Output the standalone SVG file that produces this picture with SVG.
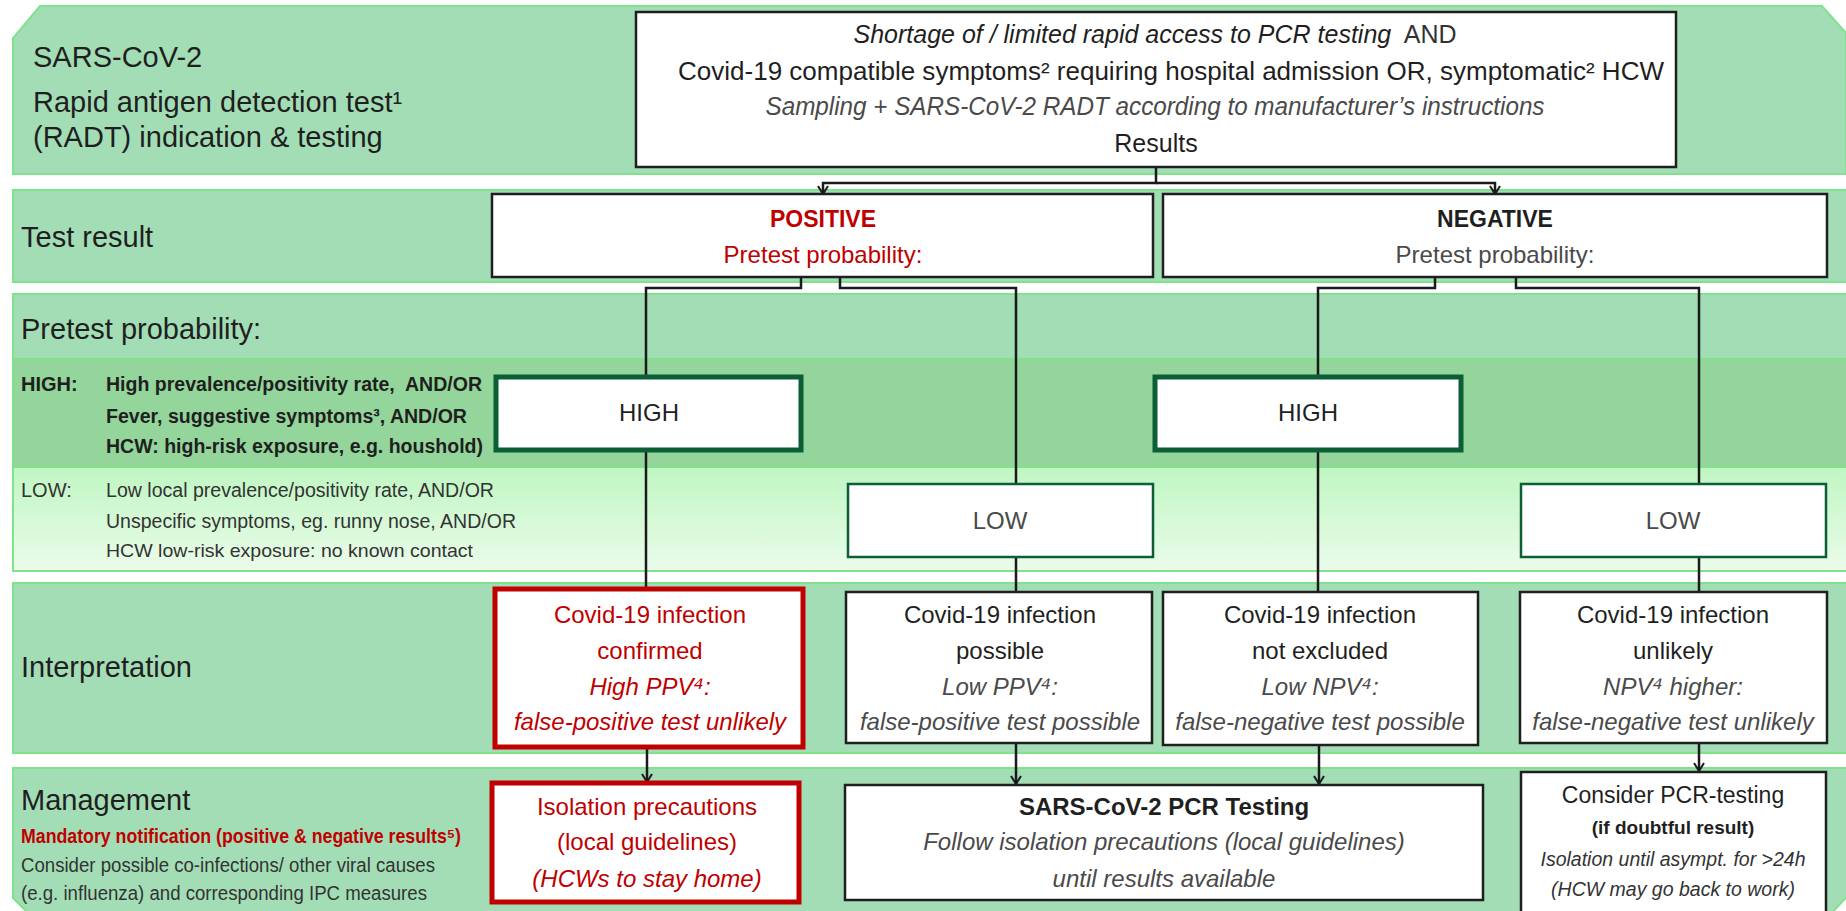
<svg xmlns="http://www.w3.org/2000/svg" width="1846" height="911" viewBox="0 0 1846 911">
<defs>
<style>
text{font-family:"Liberation Sans",Arial,sans-serif;fill:#1f1f1f}
.hdr{font-size:29px}
.band{fill:#a3ddb6;stroke:#7fe38c;stroke-width:2}
.box{fill:#fff;stroke:#1f1f1f;stroke-width:2.5}
.gbox{fill:#fff;stroke:#0b5e36;stroke-width:5}
.lbox{fill:#fff;stroke:#0b5e36;stroke-width:2.5}
.rbox{fill:#fff;stroke:#c00000;stroke-width:5}
.conn{fill:none;stroke:#1a1a1a;stroke-width:2.5}
.red{fill:#c00000}
.gray{fill:#4a4a4a}
.it{font-style:italic}
.m{text-anchor:middle}
.b24{font-size:24px}
.nar{font-size:20px}
</style>
<linearGradient id="lowg" x1="0" y1="0" x2="0" y2="1">
<stop offset="0" stop-color="#bff6c2"/>
<stop offset="1" stop-color="#ebfcea"/>
</linearGradient>
<marker id="arr" viewBox="0 0 10 12" refX="9" refY="6" markerWidth="10" markerHeight="12" markerUnits="userSpaceOnUse" orient="auto">
<path d="M1,1 L9,6 L1,11" fill="none" stroke="#1a1a1a" stroke-width="2"/>
</marker>
</defs>

<g id="bands">
<polygon class="band" points="40,6 1822,6 1846,33 1846,174 13,174 13,38"/>
<rect class="band" x="13" y="190" width="1840" height="92"/>
<rect class="band" x="13" y="294" width="1840" height="65"/>
<rect x="13" y="359" width="1840" height="108" fill="#93d59a" stroke="#7fe38c" stroke-width="2"/>
<rect x="13" y="467" width="1840" height="104" fill="url(#lowg)" stroke="#7fe38c" stroke-width="2"/>
<rect class="band" x="13" y="583" width="1840" height="170"/>
<polygon class="band" points="13,768 1853,768 1853,890 1830,915 30,915 13,898"/>
</g>

<g id="row-labels">
<text class="hdr" x="33" y="67">SARS-CoV-2</text>
<text class="hdr" x="33" y="112">Rapid antigen detection test¹</text>
<text class="hdr" x="33" y="147">(RADT) indication &amp; testing</text>
<text class="hdr" x="21" y="247">Test result</text>
<text class="hdr" x="21" y="339">Pretest probability:</text>
<text class="nar" x="21" y="391" font-weight="bold">HIGH:</text>
<text class="nar" x="106" y="391" font-weight="bold" textLength="376" lengthAdjust="spacingAndGlyphs">High prevalence/positivity rate,&#160; AND/OR</text>
<text class="nar" x="106" y="423" font-weight="bold" textLength="361" lengthAdjust="spacingAndGlyphs">Fever, suggestive symptoms³, AND/OR</text>
<text class="nar" x="106" y="453" font-weight="bold" textLength="377" lengthAdjust="spacingAndGlyphs">HCW: high-risk exposure, e.g. houshold)</text>
<text class="nar" x="21" y="497" style="fill:#333">LOW:</text>
<text class="nar" x="106" y="497" style="fill:#333" textLength="388" lengthAdjust="spacingAndGlyphs">Low local prevalence/positivity rate, AND/OR</text>
<text class="nar" x="106" y="528" style="fill:#333" textLength="410" lengthAdjust="spacingAndGlyphs">Unspecific symptoms, eg. runny nose, AND/OR</text>
<text x="106" y="557" font-size="19" style="fill:#333" textLength="367" lengthAdjust="spacingAndGlyphs">HCW low-risk exposure: no known contact</text>
<text class="hdr" x="21" y="677">Interpretation</text>
<text class="hdr" x="21" y="810">Management</text>
<text class="red" x="21" y="843" font-size="21" font-weight="bold" textLength="440" lengthAdjust="spacingAndGlyphs">Mandatory notification (positive &amp; negative results⁵)</text>
<text class="nar" x="21" y="872" style="fill:#333" textLength="414" lengthAdjust="spacingAndGlyphs">Consider possible co-infections/ other viral causes</text>
<text class="nar" x="21" y="900" style="fill:#333" textLength="406" lengthAdjust="spacingAndGlyphs">(e.g. influenza) and corresponding IPC measures</text>
</g>

<g id="connectors">
<path class="conn" d="M1156,167 V183 H823 V194" marker-end="url(#arr)"/>
<path class="conn" d="M1156,183 H1495 V194" marker-end="url(#arr)"/>
<path class="conn" d="M801,277 V288 H646 V377"/>
<path class="conn" d="M646,450 V589"/>
<path class="conn" d="M840,277 V288 H1016 V484"/>
<path class="conn" d="M1016,557 V592"/>
<path class="conn" d="M1435,277 V288 H1318 V377"/>
<path class="conn" d="M1318,450 V592"/>
<path class="conn" d="M1516,277 V288 H1699 V484"/>
<path class="conn" d="M1699,557 V592"/>
<path class="conn" d="M647,747 V782" marker-end="url(#arr)"/>
<path class="conn" d="M1016,743 V784" marker-end="url(#arr)"/>
<path class="conn" d="M1319,745 V784" marker-end="url(#arr)"/>
<path class="conn" d="M1699,743 V771" marker-end="url(#arr)"/>
</g>

<g id="start">
<rect class="box" x="636" y="12" width="1040" height="155"/>
<text class="m" x="1155" y="43" font-size="25"><tspan class="it">Shortage of / limited rapid access to PCR testing</tspan><tspan style="fill:#333">&#160; AND</tspan></text>
<text class="m" x="1171" y="80" font-size="25" textLength="986" lengthAdjust="spacingAndGlyphs">Covid-19 compatible symptoms² requiring hospital admission OR, symptomatic² HCW</text>
<text class="m it gray" x="1155" y="115" font-size="25" textLength="779" lengthAdjust="spacingAndGlyphs">Sampling + SARS-CoV-2 RADT according to manufacturer’s instructions</text>
<text class="m" x="1156" y="152" font-size="25">Results</text>
</g>

<g id="positive">
<rect class="box" x="492" y="194" width="661" height="83"/>
<text class="m red" x="823" y="227" font-size="23" font-weight="bold">POSITIVE</text>
<text class="m red" x="823" y="263" font-size="24">Pretest probability:</text>
</g>

<g id="negative">
<rect class="box" x="1163" y="194" width="664" height="83"/>
<text class="m" x="1495" y="227" font-size="23" font-weight="bold">NEGATIVE</text>
<text class="m gray" x="1495" y="263" font-size="24">Pretest probability:</text>
</g>

<g id="pos-high">
<rect class="gbox" x="496" y="377" width="305" height="73"/>
<text class="m" x="649" y="421" font-size="24">HIGH</text>
</g>
<g id="neg-high">
<rect class="gbox" x="1155" y="377" width="306" height="73"/>
<text class="m" x="1308" y="421" font-size="24">HIGH</text>
</g>
<g id="pos-low">
<rect class="lbox" x="848" y="484" width="305" height="73"/>
<text class="m gray" x="1000" y="529" font-size="24">LOW</text>
</g>
<g id="neg-low">
<rect class="lbox" x="1521" y="484" width="305" height="73"/>
<text class="m gray" x="1673" y="529" font-size="24">LOW</text>
</g>

<g id="confirmed">
<rect class="rbox" x="495" y="589" width="308" height="158"/>
<text class="m red b24" x="650" y="623">Covid-19 infection</text>
<text class="m red b24" x="650" y="659">confirmed</text>
<text class="m red b24 it" x="650" y="695">High PPV⁴:</text>
<text class="m red b24 it" x="650" y="730">false-positive test unlikely</text>
</g>
<g id="possible">
<rect class="box" x="846" y="592" width="306" height="151"/>
<text class="m b24" x="1000" y="623">Covid-19 infection</text>
<text class="m b24" x="1000" y="659">possible</text>
<text class="m b24 it gray" x="1000" y="695">Low PPV⁴:</text>
<text class="m b24 it gray" x="1000" y="730">false-positive test possible</text>
</g>
<g id="not-excluded">
<rect class="box" x="1163" y="592" width="315" height="153"/>
<text class="m b24" x="1320" y="623">Covid-19 infection</text>
<text class="m b24" x="1320" y="659">not excluded</text>
<text class="m b24 it gray" x="1320" y="695">Low NPV⁴:</text>
<text class="m b24 it gray" x="1320" y="730">false-negative test possible</text>
</g>
<g id="unlikely">
<rect class="box" x="1520" y="592" width="307" height="151"/>
<text class="m b24" x="1673" y="623">Covid-19 infection</text>
<text class="m b24" x="1673" y="659">unlikely</text>
<text class="m b24 it gray" x="1673" y="695">NPV⁴ higher:</text>
<text class="m b24 it gray" x="1673" y="730">false-negative test unlikely</text>
</g>

<g id="isolation">
<rect class="rbox" x="492" y="783" width="307" height="119"/>
<text class="m red b24" x="647" y="815">Isolation precautions</text>
<text class="m red b24" x="647" y="850">(local guidelines)</text>
<text class="m red b24 it" x="647" y="887">(HCWs to stay home)</text>
</g>
<g id="pcr">
<rect class="box" x="845" y="785" width="638" height="115"/>
<text class="m b24" x="1164" y="815" font-weight="bold">SARS-CoV-2 PCR Testing</text>
<text class="m b24 it gray" x="1164" y="850">Follow isolation precautions (local guidelines)</text>
<text class="m b24 it gray" x="1164" y="887">until results available</text>
</g>
<g id="consider">
<rect class="box" x="1521" y="772" width="305" height="150"/>
<text class="m" x="1673" y="803" font-size="23">Consider PCR-testing</text>
<text class="m" x="1673" y="834" font-size="19" font-weight="bold">(if doubtful result)</text>
<text class="m it" x="1673" y="866" font-size="19.5" style="fill:#333">Isolation until asympt. for &gt;24h</text>
<text class="m it" x="1673" y="896" font-size="19.5" style="fill:#333">(HCW may go back to work)</text>
</g>
</svg>
